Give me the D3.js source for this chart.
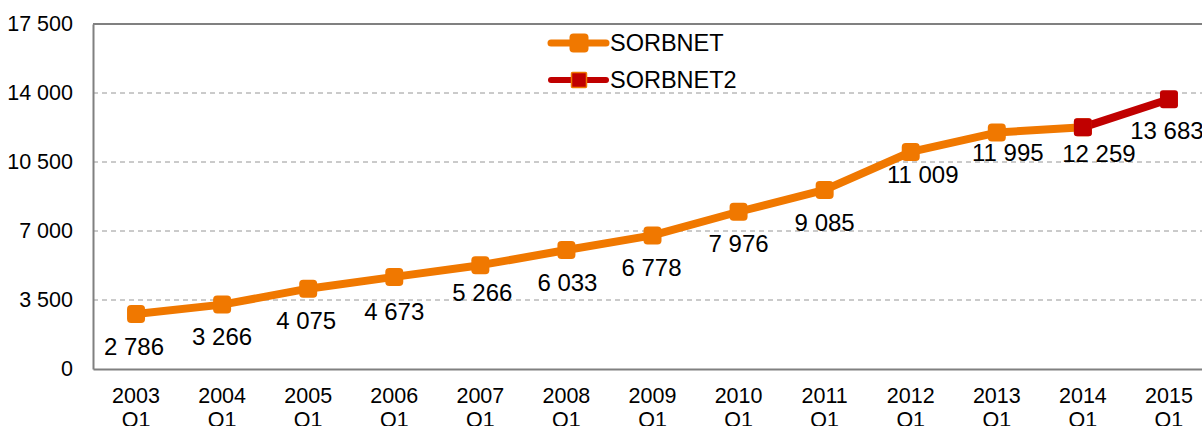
<!DOCTYPE html>
<html><head><meta charset="utf-8">
<script src="https://cdn.jsdelivr.net/npm/d3@7"></script>
<style>
html,body{margin:0;padding:0;background:#fff;}
svg{display:block;font-family:"Liberation Sans",Arial,sans-serif;}
</style></head>
<body>
<svg id="c" width="1202" height="426"></svg>
<script>
const categories = ["2003","2004","2005","2006","2007","2008","2009","2010","2011","2012","2013","2014","2015"];
const quarterLabel = "Q1";
const sorbnet = [2786,3266,4075,4673,5266,6033,6778,7976,9085,11009,11995,12259,null];
const sorbnet2 = [null,null,null,null,null,null,null,null,null,null,null,12259,13683];
const yTicks = [0,3500,7000,10500,14000,17500];
const seriesNames = ["SORBNET","SORBNET2"];
// label offsets relative to markers (layout only)
const labelDx = [-2,0,-2,0,2,1,-1,0,0,12,11,16,-2];
const labelDy = [32,32,32,34,27,32,32,31.5,32.5,22.5,20,26,31.5];

const W=1202,H=426;
const m={l:93,t:24,r:-10,b:57};
const svg=d3.select("#c");
const x=d3.scaleBand().domain(categories).range([m.l,W-m.r]);
const y=d3.scaleLinear().domain([0,17500]).range([H-m.b,m.t]);
const cx=d=>x(d)+x.bandwidth()/2;
const fmt=v=>d3.format(",")(v).replace(/,/g," ");
const FF="Liberation Sans, Arial, sans-serif";

// gridlines
svg.append("g").selectAll("line").data(yTicks.filter(t=>t>0&&t<17500)).join("line")
 .attr("x1",m.l).attr("x2",W).attr("y1",d=>y(d)).attr("y2",d=>y(d))
 .attr("stroke","#969696").attr("stroke-width",1).attr("stroke-dasharray","5,4");

// frame top
svg.append("line").attr("x1",m.l).attr("x2",W).attr("y1",y(17500)).attr("y2",y(17500)).attr("stroke","#808080").attr("stroke-width",2);

// y axis
const ya=svg.append("g").attr("transform",`translate(${m.l},0)`)
 .call(d3.axisLeft(y).tickValues(yTicks).tickFormat(fmt).tickSize(0).tickPadding(20));
ya.select(".domain").attr("stroke","#808080").attr("stroke-width",2);
ya.selectAll("text").attr("font-size",21.5).attr("fill","#000").attr("font-family",FF);

// x axis
const xa=svg.append("g").attr("transform",`translate(0,${y(0)})`)
 .call(d3.axisBottom(x).tickSize(0).tickFormat(""));
xa.select(".domain").attr("stroke","#808080").attr("stroke-width",2);
xa.selectAll(".tick").each(function(d){
  const t=d3.select(this).append("text").attr("fill","#000").attr("font-size",21.5)
   .attr("text-anchor","middle").attr("font-family",FF);
  t.append("tspan").attr("x",0).attr("y",34).text(d);
  t.append("tspan").attr("x",0).attr("y",58).text(quarterLabel);
});

const orange="#F07800", red="#C00000";
const line=d3.line().defined(d=>d.v!=null).x(d=>cx(d.c)).y(d=>y(d.v));
const s1=categories.map((c,i)=>({c,v:sorbnet[i],i}));
const s2=categories.map((c,i)=>({c,v:sorbnet2[i],i}));

svg.append("path").datum(s1).attr("d",line).attr("fill","none").attr("stroke",orange).attr("stroke-width",8).attr("stroke-linejoin","round");
svg.append("path").datum(s2).attr("d",line).attr("fill","none").attr("stroke",red).attr("stroke-width",8).attr("stroke-linejoin","round");

const ms=18;
svg.append("g").selectAll("rect").data(s1.filter(d=>d.v!=null)).join("rect")
 .attr("x",d=>cx(d.c)-ms/2).attr("y",d=>y(d.v)-ms/2).attr("width",ms).attr("height",ms).attr("rx",4)
 .attr("fill",orange);
svg.append("g").selectAll("rect").data(s2.filter(d=>d.v!=null)).join("rect")
 .attr("x",d=>cx(d.c)-ms/2).attr("y",d=>y(d.v)-ms/2).attr("width",ms).attr("height",ms).attr("rx",3)
 .attr("fill",red);

// data labels
const lab=categories.map((c,i)=>({c,i,v:sorbnet2[i]!=null?sorbnet2[i]:sorbnet[i]}));
svg.append("g").selectAll("text").data(lab).join("text")
 .attr("x",d=>cx(d.c)+labelDx[d.i]).attr("y",d=>y(d.v)+labelDy[d.i]).attr("dy","0.36em")
 .attr("text-anchor","middle").attr("font-size",24).attr("fill","#000").text(d=>fmt(d.v));

// legend
const lg=svg.append("g");
const lx1=551,lx2=606,lmx=579;
[[43,orange,orange,19,7],[80,red,red,15,6]].forEach(([ly,col,mc,sz,sw],k)=>{
  lg.append("line").attr("x1",lx1).attr("x2",lx2).attr("y1",ly).attr("y2",ly).attr("stroke",col).attr("stroke-width",sw).attr("stroke-linecap","round");
  lg.append("rect").attr("x",lmx-sz/2).attr("y",ly-sz/2).attr("width",sz).attr("height",sz).attr("rx",k?1:4)
    .attr("fill",mc).attr("stroke",k?orange:"none").attr("stroke-width",k?1.5:0);
  lg.append("text").attr("x",610).attr("y",ly).attr("dy","0.36em").attr("font-size",23.5).attr("fill","#000").text(seriesNames[k]);
});
</script>
</body></html>
